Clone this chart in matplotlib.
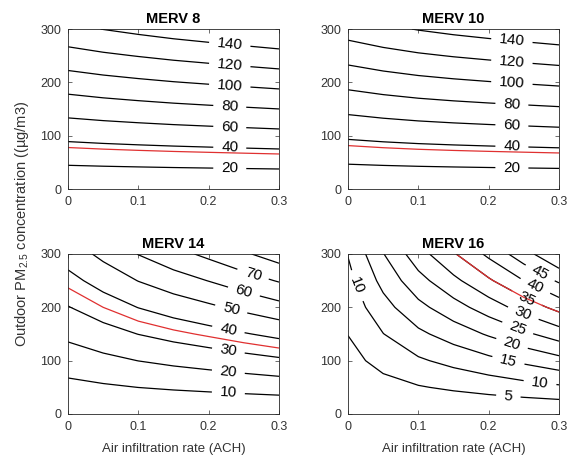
import matplotlib.pyplot as plt
import numpy as np

plt.rcParams['font.family'] = ['Liberation Sans', 'DejaVu Sans']
plt.rcParams['mathtext.fontset'] = 'custom'
plt.rcParams['mathtext.rm'] = 'Liberation Sans'

# infiltration rate grid (ACH) and outdoor PM2.5 grid (ug/m3)
ach = [0.0, 0.05, 0.10, 0.15, 0.20, 0.25, 0.30]
outdoor = [0, 50, 100, 150, 200, 250, 300]

# indoor/outdoor ratio at each ACH value
ratio_merv8 = [0.450, 0.468, 0.483, 0.497, 0.509, 0.521, 0.533]
ratio_merv10 = [0.430, 0.452, 0.470, 0.484, 0.496, 0.507, 0.518]
ratio_merv14 = [0.148, 0.175, 0.201, 0.222, 0.241, 0.262, 0.283]
ratio_merv16 = [0.034, 0.066, 0.093, 0.115, 0.137, 0.160, 0.183]

levels_merv8 = [20, 40, 60, 80, 100, 120, 140]
levels_merv10 = [20, 40, 60, 80, 100, 120, 140]
levels_merv14 = [10, 20, 30, 40, 50, 60, 70, 80]
levels_merv16 = [5, 10, 15, 20, 25, 30, 35, 40, 45, 50]
limit_level = 35

titles = ['MERV 8', 'MERV 10', 'MERV 14', 'MERV 16']

# label x positions (ACH) for each contour level
lab_x_merv8 = [0.23] * 7
lab_x_merv10 = [0.233] * 7
lab_x_merv14 = [0.228, 0.228, 0.228, 0.228, 0.232, 0.25, 0.263, None]
lab_x_merv16 = [0.228, 0.273, 0.228, 0.233, 0.241, 0.249, 0.254, 0.266, 0.273, None]

panels = [
    (ratio_merv8, levels_merv8, lab_x_merv8),
    (ratio_merv10, levels_merv10, lab_x_merv10),
    (ratio_merv14, levels_merv14, lab_x_merv14),
    (ratio_merv16, levels_merv16, lab_x_merv16),
]

W, H = 575, 459
fig = plt.figure(figsize=(W / 100, H / 100), dpi=100)
boxes = [(68, 29), (348, 29), (68, 254), (348, 254)]
aw, ah = 211, 160
grey = '#333333'

for i, (ratio, levels, lab_x) in enumerate(panels):
    left, top = boxes[i]
    ax = fig.add_axes([left / W, 1 - (top + ah) / H, aw / W, ah / H])
    X, Y = np.meshgrid(ach, outdoor)
    Z = np.outer(outdoor, ratio)
    cs = ax.contour(X, Y, Z, levels=levels, colors='black', linewidths=0.9)
    ax.contour(X, Y, Z, levels=[limit_level], colors='#e03030', linewidths=0.9, zorder=2.5)

    manual = []
    lab_levels = []
    for lev, lx in zip(levels, lab_x):
        if lx is None:
            continue
        ly = lev / np.interp(lx, ach, ratio)
        if ly > 295:
            continue
        manual.append((lx, ly))
        lab_levels.append(lev)
    if i == 3:
        manual.append((0.01, 239))
    ax.clabel(cs, sorted(set(lab_levels)), manual=manual, inline=True, fontsize=11,
              fmt='%d', inline_spacing=8)

    ax.set_xlim(0, 0.3)
    ax.set_ylim(0, 300)
    ax.set_xticks([0, 0.1, 0.2, 0.3])
    ax.set_xticklabels(['0', '0.1', '0.2', '0.3'])
    ax.set_yticks([0, 100, 200, 300])
    ax.tick_params(direction='in', length=3, width=0.5, labelsize=9,
                   colors=grey, pad=5, top=True, right=True)
    for s in ax.spines.values():
        s.set_linewidth(0.6)
        s.set_color('#262626')
    ax.set_title(titles[i], fontsize=10.5, fontweight='bold', pad=4.5)
    if i >= 2:
        ax.set_xlabel('Air infiltration rate (ACH)', fontsize=9.5, color=grey, labelpad=7)

fig.text(22 / W, 1 - 224 / H, 'Outdoor PM$_{2.5}$ concentration ((\u00b5g/m3)',
         rotation=90, va='center', ha='center', fontsize=10.5, color=grey)

plt.savefig('out.png', dpi=100)
